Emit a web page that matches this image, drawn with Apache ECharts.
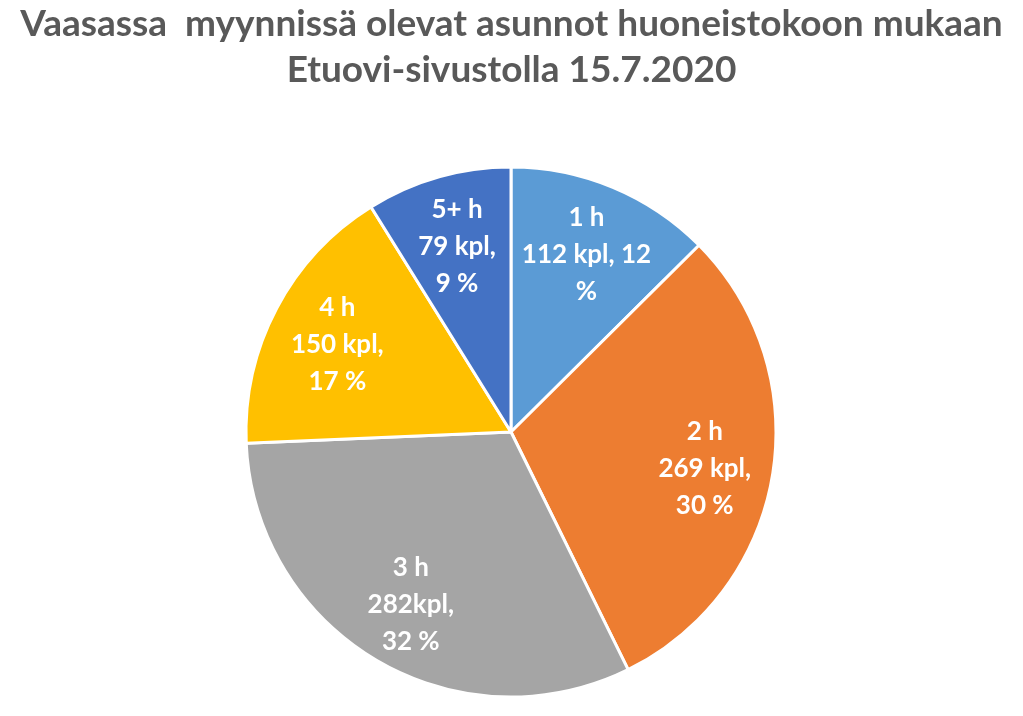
<!DOCTYPE html>
<html>
<head>
<meta charset="utf-8">
<script src="https://cdn.jsdelivr.net/npm/echarts@6/dist/echarts.min.js"></script>
<style>html,body{margin:0;padding:0;background:#fff}#c{width:1023px;height:716px}</style>
</head>
<body>
<div id="c"></div>
<script>
const titleLines = ['Vaasassa  myynnissä olevat asunnot huoneistokoon mukaan', 'Etuovi-sivustolla 15.7.2020'];
const categories = ['1 h', '2 h', '3 h', '4 h', '5+ h'];
const values = [112, 269, 282, 150, 79];
const labelTexts = ['1 h\n112 kpl, 12\n%', '2 h\n269 kpl,\n30 %', '3 h\n282kpl,\n32 %', '4 h\n150 kpl,\n17 %', '5+ h\n79 kpl,\n9 %'];
const colors = ['#5B9BD5', '#ED7D31', '#A5A5A5', '#FFC000', '#4472C4'];

const chart = echarts.init(document.getElementById('c'), null, {renderer: 'canvas'});
const R = 265;
const mainData = categories.map((c, i) => ({name: c, value: values[i], itemStyle: {color: colors[i]}}));
const labelData = categories.map((c, i) => ({name: c, value: values[i], label: {formatter: labelTexts[i]}}));
chart.setOption({
  animation: false,
  title: {
    text: titleLines.join('\n'),
    left: 'center',
    top: -4,
    textStyle: {fontFamily: 'Lato', fontWeight: 'bold', fontSize: 37, color: '#595959', lineHeight: 46}
  },
  series: [
    {
      type: 'pie',
      center: [511, 432],
      radius: [0, R],
      startAngle: 90,
      clockwise: true,
      label: {show: false},
      labelLine: {show: false},
      emphasis: {disabled: true},
      itemStyle: {borderColor: '#fff', borderWidth: 3},
      data: mainData
    },
    {
      type: 'pie',
      center: [511, 436],
      radius: [R * 0.46, R],
      startAngle: 90,
      clockwise: true,
      silent: true,
      emphasis: {disabled: true},
      itemStyle: {color: 'rgba(0,0,0,0)'},
      label: {show: true, position: 'inside', color: '#fff', fontFamily: 'Lato', fontWeight: 'bold', fontSize: 26, lineHeight: 37, align: 'center'},
      labelLine: {show: false},
      data: labelData
    }
  ]
});
</script>
</body>
</html>
